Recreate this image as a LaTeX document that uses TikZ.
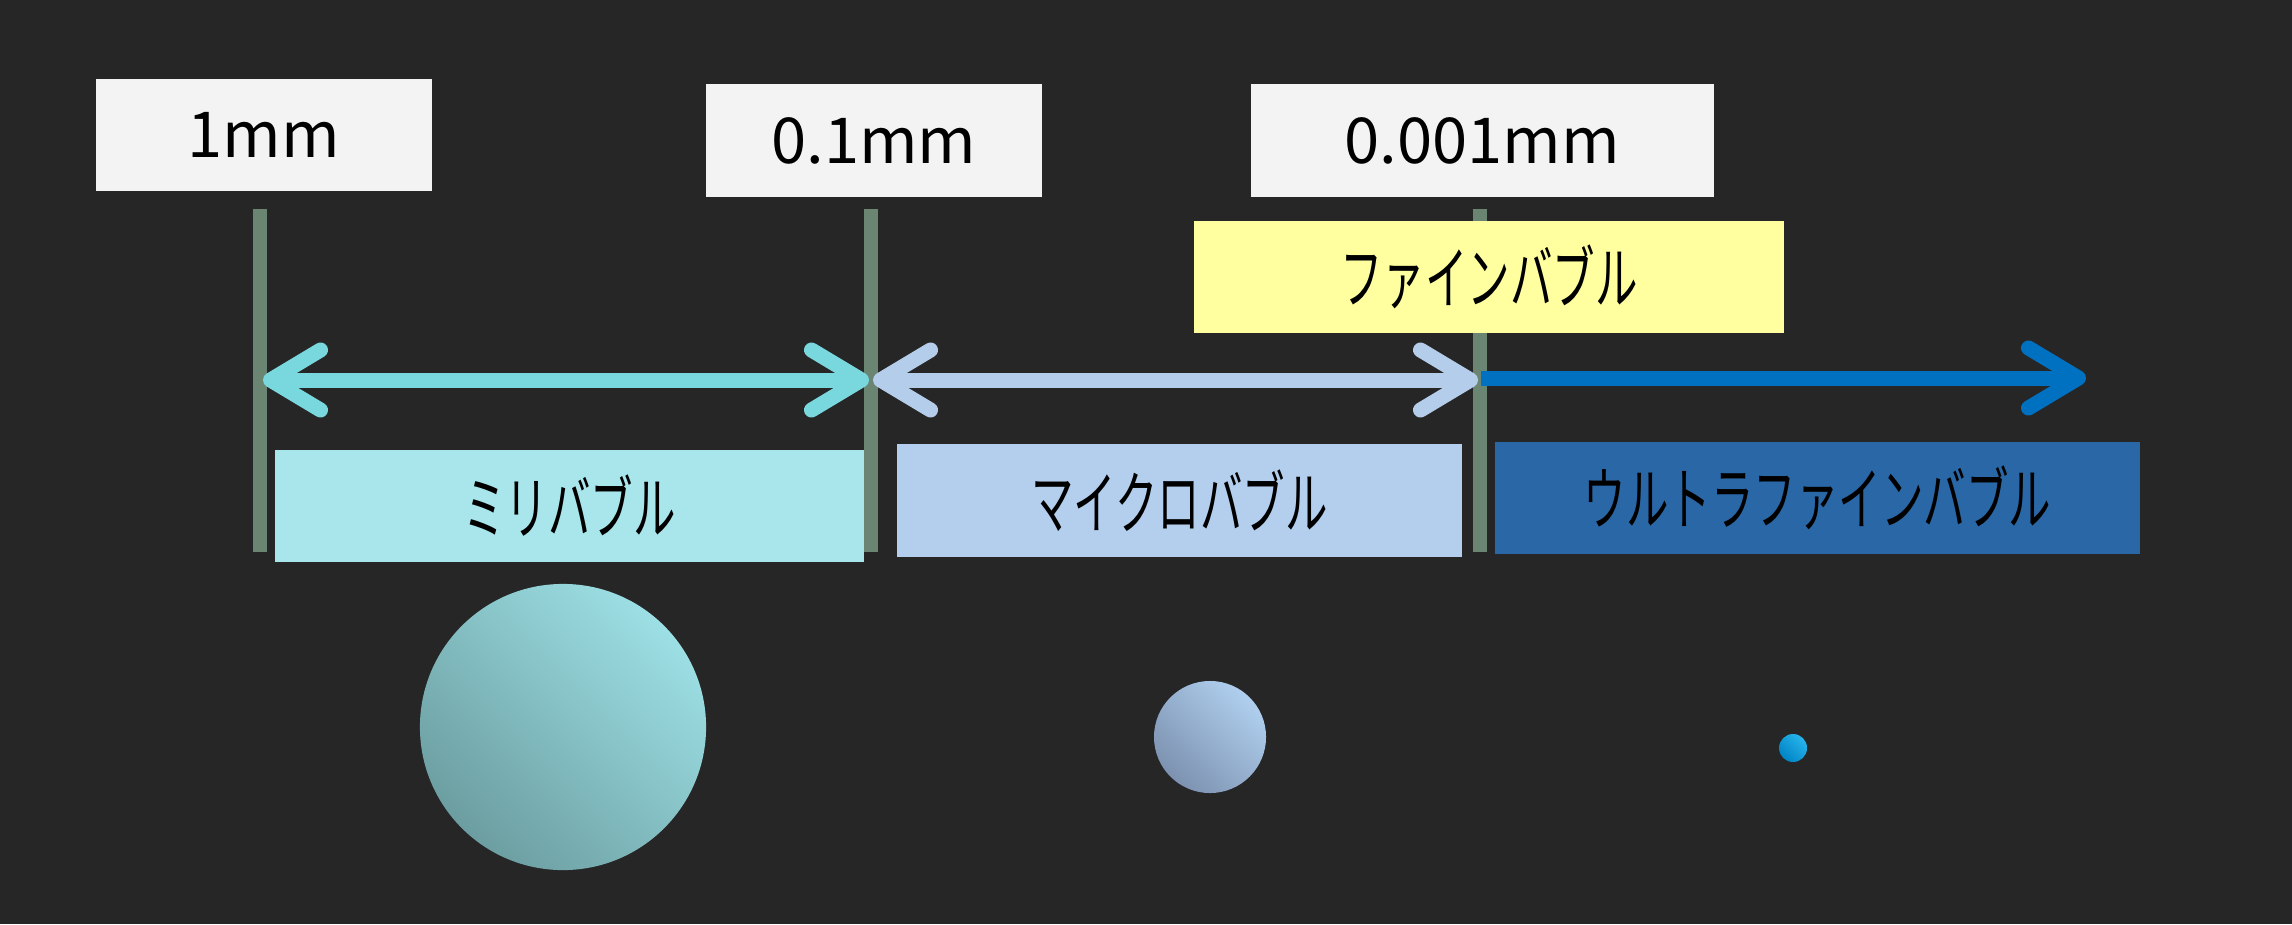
\documentclass[tikz,border=0pt]{standalone}
\usepackage{fontspec}
\newfontfamily\jpsans{Noto Sans CJK JP}
\newfontfamily\jpnarrow[FakeStretch=0.62]{Noto Sans CJK JP}
\usetikzlibrary{arrows.meta}
\usetikzlibrary{positioning}
\definecolor{bgdark}{HTML}{262626}
\definecolor{sizegray}{HTML}{F2F3F2}
\definecolor{linegreen}{HTML}{6B8573}
\definecolor{miliarrow}{HTML}{79D7DE}
\definecolor{milibox}{HTML}{A9E6EB}
\definecolor{microarrow}{HTML}{B4CDEB}
\definecolor{microbox}{HTML}{B3CFED}
\definecolor{finebox}{HTML}{FFFFA0}
\definecolor{ultraarrow}{HTML}{0070C0}
\definecolor{ultrabox}{HTML}{2A67A6}
\definecolor{mililight}{HTML}{9CDFE4}
\definecolor{milidark}{HTML}{6C9EA1}
\definecolor{microlight}{HTML}{B0CFEE}
\definecolor{microdark}{HTML}{7C92B0}
\definecolor{ultralight}{HTML}{28B4EC}
\definecolor{ultradark}{HTML}{0084C4}

\begin{document}
\begin{tikzpicture}[x=0.01cm,y=-0.01cm,
  sizebox/.style={fill=sizegray,inner sep=0,minimum height=1.12cm,text=black,font=\jpsans\fontsize{18pt}{20pt}\selectfont},
  rangebox/.style={inner sep=0,minimum height=1.12cm,text=black,font=\jpnarrow\fontsize{19.5pt}{21pt}\selectfont},
  sizeline/.style={draw=linegreen,line width=0.14cm},
  rangearrow/.style={line width=0.15cm},
  bubble/.style n args={2}{circle,inner sep=0,top color=#1,bottom color=#2,shading angle=-45}]
\fill[bgdark] (0,0) rectangle (2292,924);
\useasboundingbox (0,0) rectangle (2292,924);

\coordinate (t1) at (260,209);
\coordinate (b1) at (260,552);
\coordinate (t2) at (871,209);
\coordinate (b2) at (871,552);
\coordinate (t3) at (1480,209);
\coordinate (b3) at (1480,552);
\draw[sizeline] (t1) -- (b1);
\draw[sizeline] (t2) -- (b2);
\draw[sizeline] (t3) -- (b3);

\node[sizebox,minimum width=3.36cm] (s1) at (264,135) {1mm};
\node[sizebox,minimum width=3.36cm] (s2) at (874,140.5) {0.1mm};
\node[sizebox,minimum width=4.63cm] (s3) at (1482.5,140.5) {0.001mm};

\node[rangebox,fill=finebox,minimum width=5.90cm] (fine) at (1489,277) {ファインバブル};
\node[rangebox,fill=milibox,minimum width=5.89cm] (mili) at (569.5,506) {ミリバブル};
\node[rangebox,fill=microbox,minimum width=5.65cm] (micro) at (1179.5,500.5) {マイクロバブル};
\node[rangebox,fill=ultrabox,minimum width=6.45cm] (ultra) at (1817.5,498) {ウルトラファインバブル};

\coordinate (m1) at (263,380);
\coordinate (m2) at (869,380);
\coordinate (c1) at (873,380);
\coordinate (c2) at (1478,380);
\coordinate (u1) at (1481,378);
\coordinate (u2) at (2086,378);
\draw[rangearrow,draw=miliarrow,{Straight Barb[length=0.5cm,width=0.6cm,round]}-{Straight Barb[length=0.5cm,width=0.6cm,round]}] (m1) -- (m2);
\draw[rangearrow,draw=microarrow,{Straight Barb[length=0.5cm,width=0.6cm,round]}-{Straight Barb[length=0.5cm,width=0.6cm,round]}] (c1) -- (c2);
\draw[rangearrow,draw=ultraarrow,-{Straight Barb[length=0.5cm,width=0.6cm,round]}] (u1) -- (u2);

\node[bubble={mililight}{milidark},minimum size=2.86cm] (milibubble) at (563,727) {};
\node[bubble={microlight}{microdark},minimum size=1.12cm] (microbubble) at (1210,737) {};
\node[bubble={ultralight}{ultradark},minimum size=0.28cm] (ultrabubble) at (1793,748) {};

\end{tikzpicture}
\end{document}
